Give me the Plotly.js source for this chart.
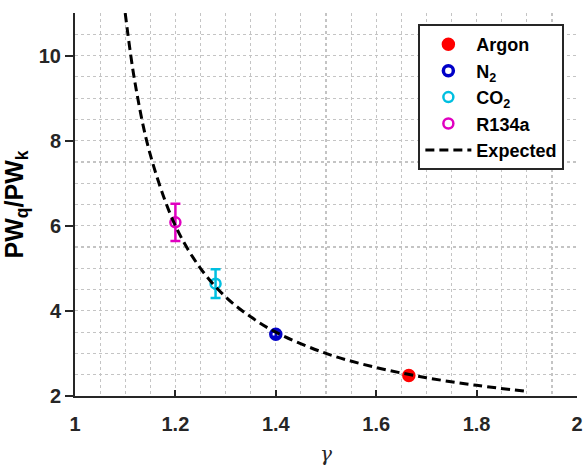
<!DOCTYPE html>
<html>
<head>
<meta charset="utf-8">
<script src="https://cdn.plot.ly/plotly-3.0.1.min.js"></script>
<style>html,body{margin:0;padding:0;background:#fff;}#chart{width:584px;height:466px;}</style>
</head>
<body>
<div id="chart"></div>
<script>
const gasNames   = ["Argon", "N<sub>2</sub>", "CO<sub>2</sub>", "R134a"];
const gasGamma   = [1.665, 1.40, 1.28, 1.20];
const gasRatio   = [2.48, 3.45, 4.64, 6.08];
const gasError   = [0.03, 0.06, 0.34, 0.44];
const gasColors  = ["#ff0000", "#0000c8", "#00bfe0", "#e000c0"];

// Expected curve points
const expGamma = [1.10, 1.12, 1.15, 1.20, 1.25, 1.30, 1.35, 1.40, 1.50, 1.60, 1.70, 1.80, 1.90];
const expRatio = [11.0, 9.33, 7.67, 6.00, 5.00, 4.33, 3.86, 3.50, 3.00, 2.67, 2.43, 2.25, 2.11];

const font = "Liberation Sans, Arial, sans-serif";
const traces = [];
for (let i = 0; i < gasNames.length; i++) {
  const filled = i === 0;
  traces.push({
    type: "scatter", mode: "markers",
    x: [gasGamma[i]], y: [gasRatio[i]], name: gasNames[i],
    legendgroup: "g" + i,
    marker: {
      symbol: filled ? "circle" : "circle-open",
      size: filled ? 11 : 10,
      color: gasColors[i],
      line: {color: gasColors[i], width: i === 1 ? 3.5 : 2.5}
    },
    error_y: {type: "data", array: [gasError[i]], visible: true, color: gasColors[i], thickness: 2.5, width: 5}
  });
}
traces.push({
  type: "scatter", mode: "lines", x: expGamma, y: expRatio, name: "Expected",
  legendgroup: "exp", line: {color: "#000000", width: 3, dash: "9px,5px", shape: "spline"}
});

const gridc = "#c4c4c4";
const layout = {
  width: 584, height: 466,
  margin: {l: 75, r: 7, t: 13, b: 70},
  paper_bgcolor: "#ffffff", plot_bgcolor: "#ffffff",
  font: {family: font, color: "#262626"},
  showlegend: true,
  legend: {
    x: 0.684, y: 0.971, xanchor: "left", yanchor: "top",
    bgcolor: "#ffffff", bordercolor: "#262626", borderwidth: 2,
    font: {family: font, size: 18, color: "#000000", weight: "bold"},
    traceorder: "grouped", tracegroupgap: 0, itemwidth: 46
  },
  xaxis: {
    range: [1, 2], dtick: 0.2, tick0: 1,
    showline: true, linecolor: "#262626", linewidth: 2,
    ticks: "inside", ticklen: 6, tickwidth: 2, tickcolor: "#262626",
    tickfont: {family: font, size: 20, color: "#262626", weight: "bold"},
    ticklabelstandoff: 9,
    showgrid: true, gridcolor: gridc, griddash: "dot", gridwidth: 1.2,
    minor: {dtick: 0.05, showgrid: true, gridcolor: gridc, griddash: "dot", gridwidth: 1.2, ticks: ""},
    zeroline: false, mirror: false,
    title: {text: "<i>γ</i>", font: {family: "DejaVu Serif, serif", size: 20, color: "#262626"}, standoff: 14}
  },
  yaxis: {
    range: [2, 11], dtick: 2, tick0: 2,
    showline: true, linecolor: "#262626", linewidth: 2,
    ticks: "outside", ticklen: 8, tickwidth: 2, tickcolor: "#262626",
    tickfont: {family: font, size: 20, color: "#262626", weight: "bold"},
    showgrid: true, gridcolor: gridc, griddash: "dot", gridwidth: 1.2,
    minor: {dtick: 0.5, showgrid: true, gridcolor: gridc, griddash: "dot", gridwidth: 1.2, ticks: ""},
    zeroline: false, mirror: false,
    title: {text: "PW<sub>q</sub>/PW<sub>k</sub>", font: {family: font, size: 25, color: "#000000", weight: "bold"}, standoff: 12}
  }
};
Plotly.newPlot("chart", traces, layout, {displayModeBar: false, staticPlot: true});
</script>
</body>
</html>
